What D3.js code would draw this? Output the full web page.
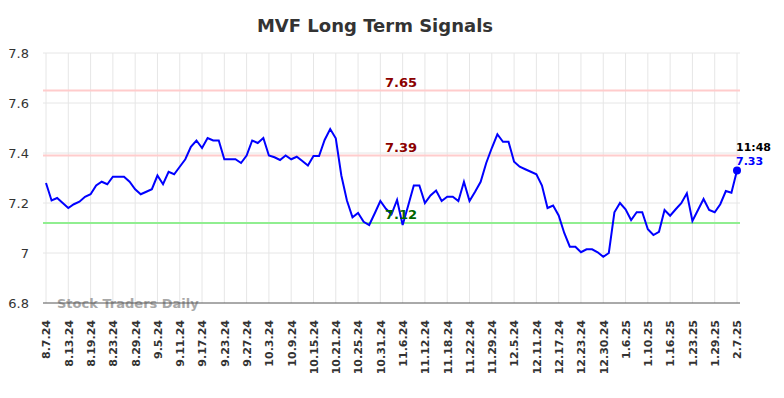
<!DOCTYPE html>
<html>
<head>
<meta charset="utf-8">
<script src="https://cdn.jsdelivr.net/npm/d3@7"></script>
<style>
  body { margin:0; background:#fff; }
  text { font-family: "DejaVu Sans", sans-serif; }
</style>
</head>
<body>
<script>

//******************************************************************************
// Data ************************************************************************

    var tickLabels = ["8.7.24","8.13.24","8.19.24","8.23.24","8.29.24","9.5.24","9.11.24","9.17.24",
                      "9.23.24","9.27.24","10.3.24","10.9.24","10.15.24","10.21.24","10.25.24","10.31.24",
                      "11.6.24","11.12.24","11.18.24","11.22.24","11.29.24","12.5.24","12.11.24","12.17.24",
                      "12.23.24","12.30.24","1.6.25","1.10.25","1.16.25","1.23.25","1.29.25","2.7.25"];

    var prices = [7.28,7.21,7.22,7.20,7.18,7.195,7.205,7.225,7.235,7.27,
                  7.285,7.275,7.305,7.305,7.305,7.285,7.255,7.235,7.245,7.255,
                  7.31,7.275,7.325,7.315,7.345,7.375,7.425,7.45,7.42,7.46,
                  7.45,7.45,7.375,7.375,7.375,7.36,7.39,7.45,7.44,7.46,
                  7.39,7.383,7.372,7.39,7.375,7.385,7.368,7.35,7.388,7.388,
                  7.452,7.496,7.459,7.31,7.21,7.143,7.16,7.125,7.112,7.159,
                  7.208,7.177,7.155,7.212,7.112,7.19,7.27,7.27,7.20,7.23,
                  7.25,7.208,7.225,7.225,7.208,7.285,7.208,7.245,7.285,7.36,
                  7.42,7.475,7.445,7.445,7.365,7.345,7.335,7.325,7.315,7.27,
                  7.18,7.19,7.15,7.08,7.025,7.025,7.003,7.015,7.015,7.003,
                  6.985,7.00,7.163,7.20,7.175,7.132,7.163,7.163,7.095,7.072,
                  7.085,7.172,7.149,7.175,7.199,7.239,7.128,7.172,7.216,7.172,
                  7.163,7.195,7.248,7.241,7.33];

    var yTicks = [6.8, 7, 7.2, 7.4, 7.6, 7.8];

    var signalLevels = [7.65, 7.39, 7.12];
    var signalKinds  = ["high", "high", "low"];

    var lastTime = "11:48";

    var tickStep = 4; // one label every 4 trading days


//******************************************************************************
// Variables *******************************************************************

    var windowSettings = {
        width : 784,//px
        height : 398,//px
    };

    var graphSettings = {
        left : 43,//px
        right : 740,//px
        top : 53,//px
        bottom : 303,//px
        pad : 3,//px  space between plot edge and first / last point

        lineColor : "#0000ff",
        gridColor : "#e6e6e6",
        highColor : "#ffcccc",
        lowColor : "#90ee90",
        highText : "#8b0000",
        lowText : "#006400",
    };


//******************************************************************************
// Initialization **************************************************************

    var svg = d3.select("body").append("svg")
                .attr("width", windowSettings.width)
                .attr("height", windowSettings.height);

    var xScale = d3.scaleLinear()
          .domain([0, prices.length - 1])
          .range([graphSettings.left + graphSettings.pad, graphSettings.right - graphSettings.pad]);

    var yScale = d3.scaleLinear()
          .domain([6.8, 7.8])
          .range([graphSettings.bottom, graphSettings.top]);


//******************************************************************************
// Prog ************************************************************************

    drawTitle();
    drawGrid();
    drawSignals();
    drawLine();
    drawAxes();


//******************************************************************************
// Functions *******************************************************************

    function drawTitle(){ // chart title
        svg.append("text")
          .attr("x", 375)
          .attr("y", 32)
          .attr("text-anchor", "middle")
          .style("font-size", "18px")
          .style("font-weight", "bold")
          .style("fill", "#333")
          .text("MVF Long Term Signals");
    }


    function drawGrid(){ // horizontal and vertical grid lines
        var g = svg.append("g");

        g.selectAll(".hgrid")
          .data(yTicks.slice(1))
          .enter().append("line")
          .attr("x1", graphSettings.left)
          .attr("x2", graphSettings.right)
          .attr("y1", d => yScale(d))
          .attr("y2", d => yScale(d))
          .style("stroke", graphSettings.gridColor)
          .style("stroke-width", 1);

        g.selectAll(".vgrid")
          .data(tickLabels)
          .enter().append("line")
          .attr("x1", (d, i) => xScale(i * tickStep))
          .attr("x2", (d, i) => xScale(i * tickStep))
          .attr("y1", graphSettings.top)
          .attr("y2", graphSettings.bottom)
          .style("stroke", graphSettings.gridColor)
          .style("stroke-width", 1);
    }


    function drawSignals(){ // resistance / support lines
        var g = svg.append("g");

        signalLevels.forEach((lvl, i) => {
            var high = signalKinds[i] == "high";

            g.append("line")
              .attr("x1", graphSettings.left)
              .attr("x2", graphSettings.right)
              .attr("y1", yScale(lvl))
              .attr("y2", yScale(lvl))
              .style("stroke", high ? graphSettings.highColor : graphSettings.lowColor)
              .style("stroke-width", 2);
        });

        // labels drawn later so they sit above the price line
    }


    function drawLine(){ // price line and last point
        var line = d3.line()
              .x((d, i) => xScale(i))
              .y(d => yScale(d));

        svg.append("path")
          .datum(prices)
          .attr("d", line)
          .attr("fill", "none")
          .attr("stroke", graphSettings.lineColor)
          .attr("stroke-width", 2);

        var last = prices.length - 1;

        svg.append("circle")
          .attr("cx", xScale(last))
          .attr("cy", yScale(prices[last]))
          .attr("r", 4)
          .attr("fill", graphSettings.lineColor);

        svg.append("text")
          .attr("x", xScale(last) - 1)
          .attr("y", yScale(prices[last]) - 20)
          .style("font-size", "11px")
          .style("font-weight", "bold")
          .style("fill", "#000")
          .text(lastTime);

        svg.append("text")
          .attr("x", xScale(last) - 1)
          .attr("y", yScale(prices[last]) - 6)
          .style("font-size", "11px")
          .style("font-weight", "bold")
          .style("fill", graphSettings.lineColor)
          .text(prices[last].toFixed(2));

        signalLevels.forEach((lvl, i) => { // signal level labels
            var high = signalKinds[i] == "high";
            svg.append("text")
              .attr("x", 401)
              .attr("y", yScale(lvl) - 4)
              .attr("text-anchor", "middle")
              .style("font-size", "13px")
              .style("font-weight", "bold")
              .style("fill", high ? graphSettings.highText : graphSettings.lowText)
              .text(lvl.toFixed(2));
        });
    }


    function drawAxes(){ // axis lines, tick labels, watermark
        svg.append("text")
          .attr("x", 57)
          .attr("y", 308)
          .style("font-size", "13px")
          .style("font-weight", "bold")
          .style("fill", "#999")
          .style("opacity", 0.85)
          .text("Stock Traders Daily");

        svg.append("line")
          .attr("x1", graphSettings.left)
          .attr("x2", graphSettings.right)
          .attr("y1", graphSettings.bottom)
          .attr("y2", graphSettings.bottom)
          .style("stroke", "#555")
          .style("stroke-width", 1);

        var yAxis = d3.axisLeft(yScale)
              .tickValues(yTicks)
              .tickSize(0)
              .tickPadding(0)
              .tickFormat(d => d3.format("")(Math.round(d * 10) / 10));

        var ya = svg.append("g")
              .attr("transform", "translate(29,0)")
              .call(yAxis);
        ya.select(".domain").remove();
        ya.selectAll("text")
          .style("font-size", "13px")
          .style("fill", "#333");

        var xAxis = d3.axisBottom(xScale)
              .tickValues(tickLabels.map((d, i) => i * tickStep))
              .tickSize(0)
              .tickFormat((d, i) => tickLabels[i]);

        var xa = svg.append("g")
              .attr("transform", "translate(0," + graphSettings.bottom + ")")
              .call(xAxis);
        xa.select(".domain").remove();
        xa.selectAll("text")
          .attr("transform", "rotate(-90)")
          .attr("text-anchor", "end")
          .attr("x", -17)
          .attr("y", 0)
          .attr("dy", "0.35em")
          .style("font-size", "11px")
          .style("font-weight", "bold")
          .style("fill", "#333");
    }

</script>
</body>
</html>
